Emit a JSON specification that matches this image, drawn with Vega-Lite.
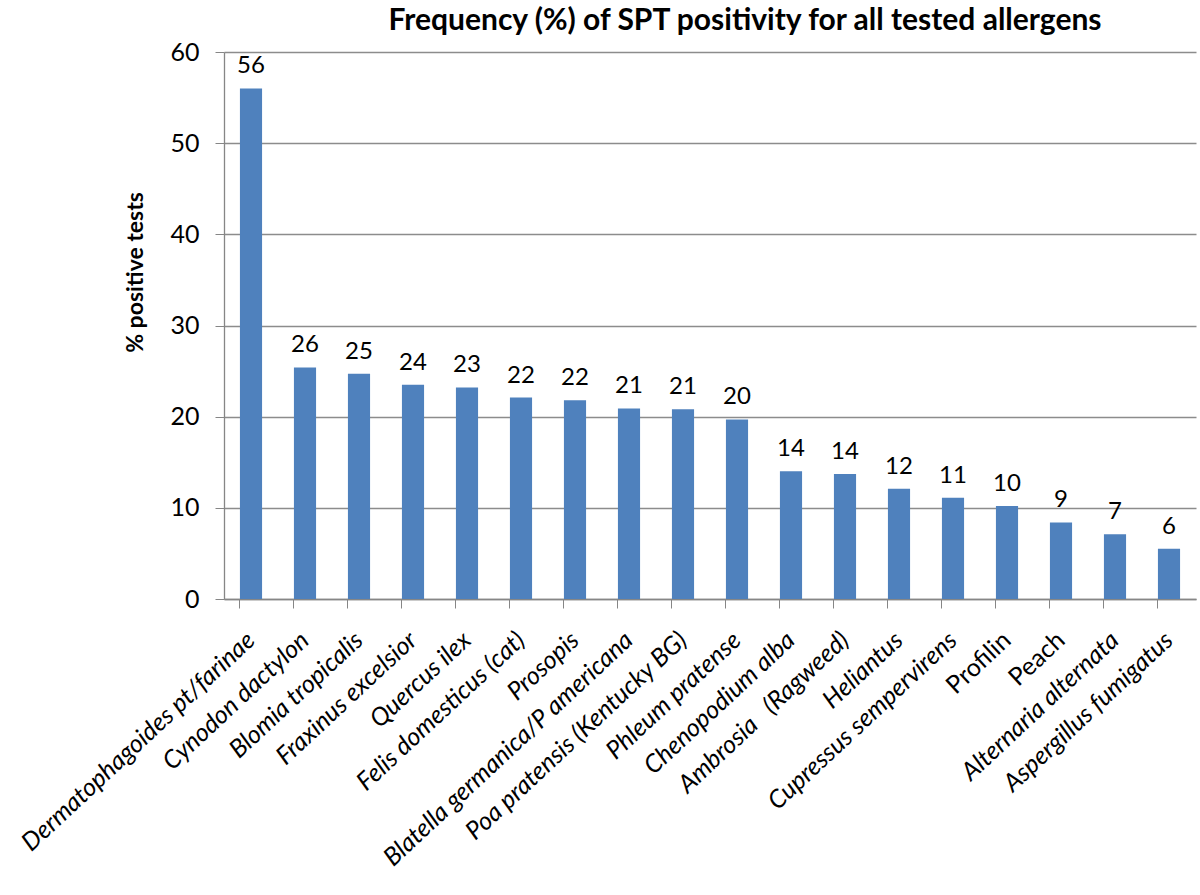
{
  "$schema": "https://vega.github.io/schema/vega-lite/v6.json",
  "autosize": {"type": "none"},
  "padding": {"left": 224, "top": 52, "right": 4, "bottom": 296},
  "width": 972,
  "height": 547,
  "background": "white",
  "title": {
    "text": "Frequency (%) of SPT positivity for all tested allergens",
    "font": "Lato",
    "fontSize": 30,
    "fontWeight": "bold",
    "color": "#000000",
    "anchor": "middle",
    "dx": 35,
    "offset": 4
  },
  "data": {
    "values": [
      {"allergen": "Dermatophagoides pt/farinae", "pct": 56.0, "label": "56"},
      {"allergen": "Cynodon dactylon", "pct": 25.4, "label": "26"},
      {"allergen": "Blomia tropicalis", "pct": 24.7, "label": "25"},
      {"allergen": "Fraxinus excelsior", "pct": 23.5, "label": "24"},
      {"allergen": "Quercus ilex", "pct": 23.2, "label": "23"},
      {"allergen": "Felis domesticus (cat)", "pct": 22.1, "label": "22"},
      {"allergen": "Prosopis", "pct": 21.8, "label": "22"},
      {"allergen": "Blatella germanica/P americana", "pct": 20.9, "label": "21"},
      {"allergen": "Poa pratensis (Kentucky BG)", "pct": 20.8, "label": "21"},
      {"allergen": "Phleum pratense", "pct": 19.7, "label": "20"},
      {"allergen": "Chenopodium alba", "pct": 14.0, "label": "14"},
      {"allergen": "Ambrosia\u00a0\u00a0 (Ragweed)", "pct": 13.7, "label": "14"},
      {"allergen": "Heliantus", "pct": 12.1, "label": "12"},
      {"allergen": "Cupressus sempervirens", "pct": 11.1, "label": "11"},
      {"allergen": "Profilin", "pct": 10.2, "label": "10"},
      {"allergen": "Peach", "pct": 8.4, "label": "9"},
      {"allergen": "Alternaria alternata", "pct": 7.1, "label": "7"},
      {"allergen": "Aspergillus fumigatus", "pct": 5.5, "label": "6"}
    ]
  },
  "encoding": {
    "x": {
      "field": "allergen",
      "type": "nominal",
      "sort": null,
      "scale": {"paddingInner": 0.59, "paddingOuter": 0.295},
      "axis": {
        "title": null,
        "labelAngle": -43,
        "labelAlign": "right",
        "labelBaseline": "middle",
        "labelFont": "Lato",
        "labelFontSize": 25,
        "labelColor": "#000000",
        "labelFontStyle": {
          "condition": {"test": "datum.value == 'Profilin' || datum.value == 'Peach'", "value": "normal"},
          "value": "italic"
        },
        "labelPadding": 28,
        "labelOverlap": false,
        "labelLimit": 0,
        "bandPosition": 0,
        "ticks": true,
        "tickSize": 9,
        "tickColor": "#868686",
        "domainColor": "#868686",
        "domainWidth": 1.3,
        "grid": false
      }
    },
    "y": {
      "field": "pct",
      "type": "quantitative",
      "scale": {"domain": [0, 60], "nice": false},
      "axis": {
        "title": "% positive tests",
        "titleFont": "Lato",
        "titleFontSize": 23,
        "titleFontWeight": "bold",
        "titleColor": "#000000",
        "titlePadding": 22,
        "titleY": 220,
        "values": [0, 10, 20, 30, 40, 50, 60],
        "labelFont": "Lato",
        "labelFontSize": 25,
        "labelColor": "#000000",
        "labelPadding": 16,
        "tickSize": 9,
        "tickColor": "#868686",
        "domainColor": "#868686",
        "domainWidth": 1.3,
        "grid": true,
        "gridColor": "#8c8c8c",
        "gridWidth": 1.3
      }
    }
  },
  "layer": [
    {"mark": {"type": "bar", "color": "#4F81BD"}},
    {
      "mark": {"type": "text", "baseline": "alphabetic", "dy": -15, "font": "Lato", "fontSize": 24, "color": "#000000"},
      "encoding": {"text": {"field": "label"}}
    }
  ],
  "config": {"view": {"stroke": null}}
}
